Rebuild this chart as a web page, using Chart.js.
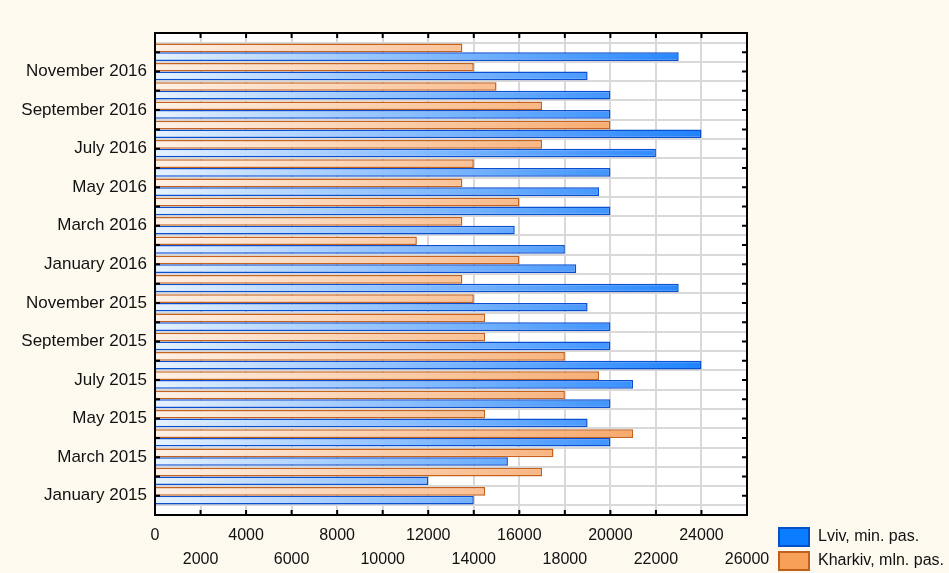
<!DOCTYPE html>
<html>
<head>
<meta charset="utf-8">
<script src="https://cdn.jsdelivr.net/npm/chart.js@4.4.1/dist/chart.umd.min.js"></script>
<style>
  body { margin: 0; background: #fdf9ef; font-family: "Liberation Sans", Arial, sans-serif; }
  #wrap { position: relative; width: 949px; height: 573px; overflow: hidden; }
  .leg { position: absolute; left: 778px; font-size: 16px; color: #111; white-space: nowrap; }
  .leg span { display: inline-block; width: 28px; height: 16px; vertical-align: middle; margin-right: 8px; }
</style>
</head>
<body>
<div id="wrap">
  <canvas id="grafica" width="949" height="573"></canvas>
  <div class="leg" style="top:527px"><span style="background:#0a7cff;border:2px solid #0050c8"></span>Lviv, min. pas.</div>
  <div class="leg" style="top:551px"><span style="background:#f7a058;border:2px solid #c0601c"></span>Kharkiv, mln. pas.</div>
</div>
<script>
// months, oldest first (drawn bottom to top)
const meses = [
  'January 2015', 'February 2015', 'March 2015', 'April 2015', 'May 2015', 'June 2015',
  'July 2015', 'August 2015', 'September 2015', 'October 2015', 'November 2015', 'December 2015',
  'January 2016', 'February 2016', 'March 2016', 'April 2016', 'May 2016', 'June 2016',
  'July 2016', 'August 2016', 'September 2016', 'October 2016', 'November 2016', 'December 2016'
];
const lviv = [14000, 12000, 15500, 20000, 19000, 20000, 21000, 24000, 20000, 20000, 19000, 23000,
              18500, 18000, 15800, 20000, 19500, 20000, 22000, 24000, 20000, 20000, 19000, 23000];
const kharkiv = [14500, 17000, 17500, 21000, 14500, 18000, 19500, 18000, 14500, 14500, 14000, 13500,
                 16000, 11500, 13500, 16000, 13500, 14000, 17000, 20000, 17000, 15000, 14000, 13500];
const ticksX = [0, 2000, 4000, 6000, 8000, 10000, 12000, 14000, 16000, 18000, 20000, 22000, 24000, 26000];

// empty slot at each end of the axis, like the original
const etiquetas = [''].concat(meses, ['']);
const pad = arr => [null].concat(arr, [null]);

function degradado(chart, c1, c2) {
  const a = chart.chartArea;
  if (!a) return c2;
  const g = chart.ctx.createLinearGradient(a.left, 0, a.right, 0);
  g.addColorStop(0, c1);
  g.addColorStop(1, c2);
  return g;
}

// white plot area, black frame + inward tick marks on all four sides
const marco = {
  id: 'marco',
  beforeDraw(chart) {
    const { ctx, chartArea: a } = chart;
    ctx.save();
    ctx.fillStyle = '#fff';
    ctx.fillRect(a.left, a.top, a.right - a.left, a.bottom - a.top);
    ctx.restore();
  },
  afterDraw(chart) {
    const { ctx, chartArea: a, scales: { x, y } } = chart;
    const L = 5;
    ctx.save();
    ctx.strokeStyle = '#000';
    ctx.lineWidth = 2;
    ctx.beginPath();
    x.ticks.forEach((t, i) => {
      const px = x.getPixelForTick(i);
      ctx.moveTo(px, a.bottom); ctx.lineTo(px, a.bottom - L);
      ctx.moveTo(px, a.top); ctx.lineTo(px, a.top + L);
    });
    for (let i = 1; i < etiquetas.length - 1; i++) {
      const py = y.getPixelForValue(i);
      ctx.moveTo(a.left, py); ctx.lineTo(a.left + L, py);
      ctx.moveTo(a.right, py); ctx.lineTo(a.right - L, py);
    }
    ctx.stroke();
    ctx.strokeRect(a.left, a.top, a.right - a.left, a.bottom - a.top);
    ctx.restore();
  }
};

new Chart(document.getElementById('grafica'), {
  type: 'bar',
  data: {
    labels: etiquetas,
    datasets: [
      {
        label: 'Kharkiv, mln. pas.',
        data: pad(kharkiv),
        backgroundColor: c => degradado(c.chart, '#fff1e6', '#f5984f'),
        borderColor: '#c4621e',
        borderWidth: 1.5
      },
      {
        label: 'Lviv, min. pas.',
        data: pad(lviv),
        backgroundColor: c => degradado(c.chart, '#e6f2ff', '#0f7aff'),
        borderColor: '#0a4fd0',
        borderWidth: 1.5
      }
    ]
  },
  options: {
    indexAxis: 'y',
    responsive: false,
    animation: false,
    categoryPercentage: 0.9,
    barPercentage: 1,
    layout: { padding: { top: 33, right: 202, left: 0, bottom: 0 } },
    plugins: {
      legend: { display: false },
      tooltip: { enabled: false }
    },
    scales: {
      x: {
        min: 0,
        max: 26000,
        afterBuildTicks: s => { s.ticks = ticksX.map(v => ({ value: v })); },
        grid: { color: '#d9d9d9', lineWidth: 2, drawTicks: false },
        border: { display: false },
        ticks: {
          autoSkip: false,
          maxRotation: 0,
          padding: 9,
          color: '#111',
          font: { family: 'Liberation Sans', size: 16, lineHeight: 1.5 },
          callback: (v, i) => i % 2 === 0 ? [String(v), ''] : ['', String(v)]
        },
        afterFit: s => { s.height = 58; }
      },
      y: {
        reverse: true,
        offset: false,
        grid: { color: '#d9d9d9', lineWidth: 2, drawTicks: false },
        border: { display: false },
        ticks: {
          autoSkip: false,
          padding: 8,
          color: '#111',
          font: { family: 'Liberation Sans', size: 17 },
          callback: function (v, i) { return i % 2 === 1 ? this.getLabelForValue(v) : ''; }
        },
        afterFit: s => { s.width = 155; }
      }
    }
  },
  plugins: [marco]
});
</script>
</body>
</html>
